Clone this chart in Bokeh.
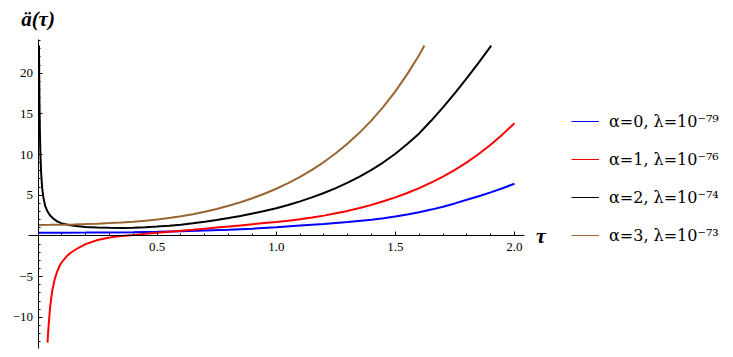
import numpy as np
from bokeh.plotting import figure
from bokeh.models import (Range1d, FixedTicker, CustomJSTickFormatter, PrintfTickFormatter,
                          Label, Legend, LegendItem)
from bokeh.embed import file_html
from bokeh.resources import INLINE

# ---- data ----
blue_x = [0.0, 0.1, 0.2, 0.3, 0.4, 0.5, 0.6, 0.7, 0.8, 0.9, 1.0, 1.1, 1.2, 1.3, 1.4, 1.45,
          1.5, 1.55, 1.6, 1.65, 1.7, 1.75, 1.8, 1.85, 1.9, 1.95, 2.0]
blue_y = [0.40, 0.41, 0.42, 0.44, 0.47, 0.52, 0.58, 0.66, 0.76, 0.90, 1.08, 1.28, 1.48,
          1.72, 1.99, 2.17, 2.38, 2.63, 2.92, 3.24, 3.60, 4.00, 4.44, 4.88, 5.35, 5.86, 6.42]

red_x = [0.04, 0.042, 0.045, 0.05, 0.055, 0.06, 0.07, 0.08, 0.09, 0.1, 0.12, 0.14, 0.17,
         0.2, 0.25, 0.3, 0.35, 0.4, 0.45, 0.5, 0.55, 0.6, 0.65, 0.7, 0.75, 0.8, 0.85, 0.9,
         0.95, 1.0, 1.05, 1.1, 1.15, 1.2, 1.25, 1.3, 1.35, 1.4, 1.45, 1.5, 1.55, 1.6, 1.65,
         1.7, 1.75, 1.8, 1.85, 1.9, 1.95, 2.0]
red_y = [-13.1, -12.0, -10.8, -9.0, -7.7, -6.7, -5.3, -4.4, -3.7, -3.2, -2.5, -2.0, -1.45,
         -1.0, -0.5, -0.2, 0.0, 0.12, 0.27, 0.40, 0.53, 0.65, 0.77, 0.90, 1.03, 1.16, 1.30,
         1.44, 1.58, 1.72, 1.87, 2.05, 2.26, 2.50, 2.78, 3.08, 3.43, 3.82, 4.26, 4.74, 5.28,
         5.88, 6.55, 7.29, 8.12, 9.04, 10.07, 11.2, 12.48, 13.85]

black_x = [0.004, 0.005, 0.006, 0.008, 0.01, 0.013, 0.017, 0.022, 0.03, 0.04, 0.05, 0.06,
           0.07, 0.08, 0.1, 0.12, 0.15, 0.2, 0.25, 0.3, 0.35, 0.4, 0.45, 0.5, 0.55, 0.6,
           0.65, 0.7, 0.75, 0.8, 0.85, 0.9, 0.95, 1.0, 1.05, 1.1, 1.15, 1.2, 1.25, 1.3,
           1.35, 1.4, 1.45, 1.5, 1.55, 1.6, 1.65, 1.7, 1.75, 1.8, 1.85, 1.9, 1.902]
black_y = [23.4, 19.5, 16.5, 12.5, 10.0, 7.8, 6.0, 4.8, 3.7, 3.0, 2.55, 2.25, 2.0, 1.8,
           1.55, 1.4, 1.25, 1.1, 1.03, 1.0, 0.99, 1.02, 1.07, 1.15, 1.25, 1.38, 1.55, 1.75,
           1.97, 2.2, 2.46, 2.75, 3.06, 3.4, 3.8, 4.25, 4.74, 5.28, 5.88, 6.55, 7.3, 8.12,
           9.05, 10.1, 11.3, 12.6, 14.15, 15.8, 17.55, 19.4, 21.3, 23.3, 23.4]

brown_x = [0.0, 0.05, 0.1, 0.15, 0.2, 0.25, 0.3, 0.35, 0.4, 0.45, 0.5, 0.55, 0.6, 0.65,
           0.7, 0.75, 0.8, 0.85, 0.9, 0.95, 1.0, 1.05, 1.1, 1.15, 1.2, 1.25, 1.3, 1.35, 1.4,
           1.45, 1.5, 1.55, 1.6, 1.622]
brown_y = [1.36, 1.37, 1.39, 1.42, 1.46, 1.51, 1.58, 1.66, 1.76, 1.88, 2.02, 2.20, 2.42,
           2.68, 2.97, 3.32, 3.71, 4.15, 4.64, 5.19, 5.80, 6.49, 7.26, 8.12, 9.08, 10.16,
           11.36, 12.70, 14.20, 15.89, 17.77, 19.88, 22.23, 23.4]

legend_labels = ["α=0, λ=10⁻⁷⁹", "α=1, λ=10⁻⁷⁶", "α=2, λ=10⁻⁷⁴", "α=3, λ=10⁻⁷³"]
colors = ["#0000ff", "#ff0000", "#000000", "#996633"]
x_major = [0.5, 1.0, 1.5, 2.0]
y_major = [-10, -5, 5, 10, 15, 20]

SERIF = "Liberation Serif"

# plotted region (axis extents) and where it sits in the canvas (pixels)
W, H = 733, 357
x_lo, x_hi = -0.04, 2.04
y_lo, y_hi = -13.8, 24.1
px_left, px_right = 28.0, 523.5      # canvas px of x_lo, x_hi
py_top, py_bottom = 39.3, 347.8      # canvas px of y_hi, y_lo
sx = (px_right - px_left) / (x_hi - x_lo)
sy = (py_bottom - py_top) / (y_hi - y_lo)
xr = Range1d(x_lo - px_left / sx, x_lo + (W - px_left) / sx)
yr = Range1d(y_hi - (H - py_top) / sy, y_hi + py_top / sy)

p = figure(width=W, height=H, x_range=xr, y_range=yr,
           output_backend="svg", toolbar_location=None,
           min_border_left=0, min_border_right=0, min_border_top=0, min_border_bottom=0)
p.grid.visible = False
p.outline_line_color = None
p.background_fill_color = "white"

series = [(blue_x, blue_y), (red_x, red_y), (black_x, black_y), (brown_x, brown_y)]
for (xs, ys), c in zip(series, colors):
    p.line(xs, ys, line_color=c, line_width=2)

# thin-line legend keys (single-point renderers draw nothing in the plot)
items = []
for (xs, ys), lab, c in zip(series, legend_labels, colors):
    r = p.line(x=xs[:1], y=ys[:1], line_color=c, line_width=1)
    items.append(LegendItem(label=lab, renderers=[r]))

legend = Legend(items=items, location=(571, 112), orientation="vertical",
                border_line_color=None, background_fill_alpha=0, padding=0, margin=0,
                glyph_width=28, glyph_height=20, label_height=20, spacing=18,
                label_standoff=10, label_text_font="DejaVu Serif", label_text_font_size="16px",
                label_text_color="black")
p.add_layout(legend)

x_minor = [round(v, 2) for v in np.arange(0.1, 2.05, 0.1) if min(abs(v - m) for m in x_major) > 1e-6]
y_minor = [v for v in range(-13, 25) if v not in y_major and v != 0]

xa = p.xaxis[0]
ya = p.yaxis[0]
xa.fixed_location = 0
ya.fixed_location = 0
xa.bounds = (x_lo, x_hi)
ya.bounds = (y_lo, y_hi)
xa.ticker = FixedTicker(ticks=x_major, minor_ticks=x_minor)
ya.ticker = FixedTicker(ticks=y_major, minor_ticks=y_minor)
xa.formatter = PrintfTickFormatter(format="%.1f")
ya.formatter = CustomJSTickFormatter(code="return tick < 0 ? '\u2212' + Math.abs(tick) : String(tick);")
for ax in (xa, ya):
    ax.axis_line_color = "black"
    ax.axis_line_width = 1
    ax.major_tick_in = 4
    ax.major_tick_out = 0
    ax.minor_tick_in = 2
    ax.minor_tick_out = 0
    ax.major_tick_line_color = "black"
    ax.minor_tick_line_color = "black"
    ax.major_label_text_font = SERIF
    ax.major_label_text_font_size = "13px"
    ax.major_label_text_color = "black"
xa.major_label_standoff = 7
ya.major_label_standoff = 5

p.add_layout(Label(x=0, y=y_hi, y_offset=9, text="ä(τ)", text_align="center",
                   text_baseline="bottom", text_font=SERIF, text_font_style="bold italic",
                   text_font_size="21px", text_color="black"))
p.add_layout(Label(x=x_hi, y=0, x_offset=12, text="τ", text_align="left",
                   text_baseline="middle", text_font=SERIF, text_font_style="bold italic",
                   text_font_size="22px", text_color="black"))

open("out.html", "w").write(file_html(p, INLINE))
